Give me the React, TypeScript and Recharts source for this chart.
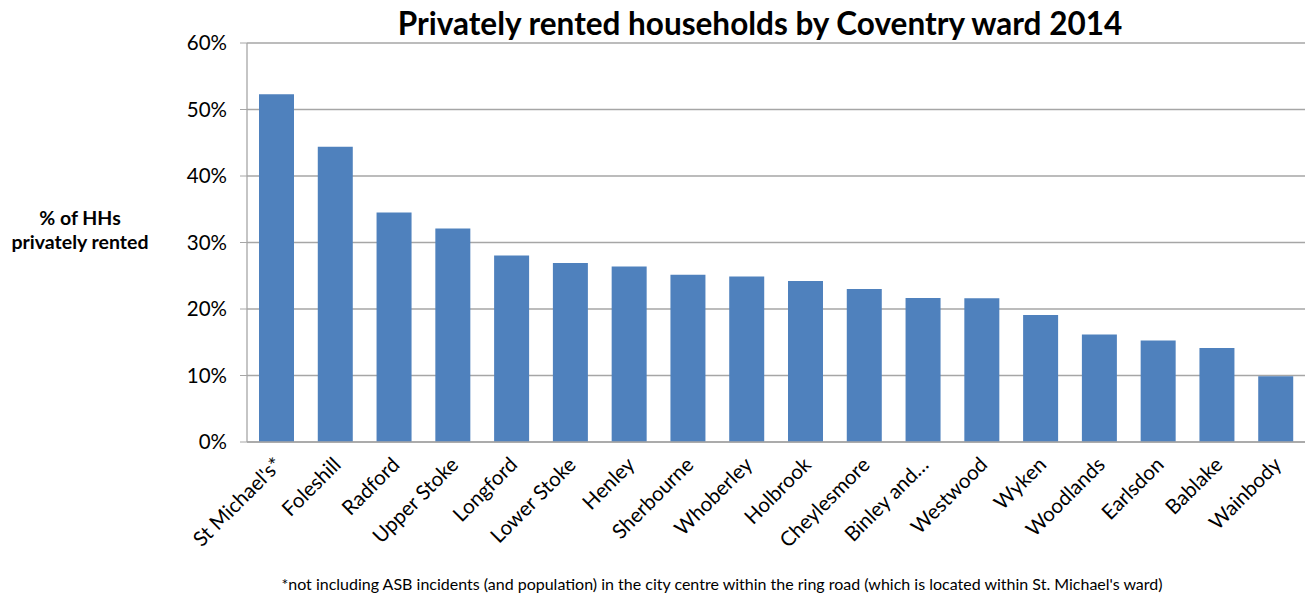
import React from 'react';
import { BarChart, Bar, XAxis, YAxis, CartesianGrid, Customized } from 'recharts';

const wards: string[] = [
  "St Michael's*", 'Foleshill', 'Radford', 'Upper Stoke', 'Longford', 'Lower Stoke', 'Henley',
  'Sherbourne', 'Whoberley', 'Holbrook', 'Cheylesmore', 'Binley and…', 'Westwood', 'Wyken',
  'Woodlands', 'Earlsdon', 'Bablake', 'Wainbody',
];
const privatelyRented: number[] = [
  0.523, 0.444, 0.345, 0.321, 0.2805, 0.269, 0.264, 0.2515, 0.249, 0.242, 0.230, 0.2165, 0.216,
  0.191, 0.1615, 0.1525, 0.1415, 0.099,
];
const yTicks: number[] = [0, 0.1, 0.2, 0.3, 0.4, 0.5, 0.6];
const boundaryTicks: number[] = [0, 1, 2, 3, 4, 5, 6, 7, 8, 9, 10, 11, 12, 13, 14, 15, 16, 17, 18];

const title = 'Privately rented households by Coventry ward 2014';
const yLabelLines = ['% of HHs', 'privately rented'];
const footnote =
  "*not including ASB incidents (and population) in the city centre within the ring road (which is located within St. Michael's ward)";

const data = wards.map((w, i) => ({ ward: w, value: privatelyRented[i] }));

const FONT = 'Lato, "Noto Sans", sans-serif';
const GRID = '#a6a6a6';

const XTick = (props: any) => {
  const { x, y, payload } = props;
  const ax = x + 7;
  const ay = y + 16;
  return (
    <text
      x={ax}
      y={ay}
      textAnchor="end"
      fontSize={20.5}
      fontFamily={FONT}
      fill="#000"
      transform={`rotate(-45, ${ax}, ${ay})`}
    >
      {payload.value}
    </text>
  );
};

const Overlay = () => (
  <g fontFamily={FONT}>
    <text x={760} y={35} textAnchor="middle" fontSize={31.5} fontWeight="bold" fill="#000">
      {title}
    </text>
    <text x={80} y={225} textAnchor="middle" fontSize={19.5} fontWeight="bold" fill="#000">
      {yLabelLines[0]}
    </text>
    <text x={80} y={249} textAnchor="middle" fontSize={19.5} fontWeight="bold" fill="#000">
      {yLabelLines[1]}
    </text>
    <text x={722} y={590} textAnchor="middle" fontSize={16} fill="#000">
      {footnote}
    </text>
  </g>
);

export default function App() {
  return (
    <div style={{ position: 'absolute', left: 0, top: 0, background: '#fff' }}>
      <BarChart
        width={1311}
        height={596}
        data={data}
        margin={{ top: 43, right: 6, left: 187, bottom: 44 }}
        barSize={35}
      >
        <CartesianGrid vertical={false} stroke={GRID} strokeWidth={1.3} />
        <XAxis
          xAxisId="b"
          type="number"
          domain={[0, 18]}
          ticks={boundaryTicks}
          height={0}
          tickSize={6}
          tickLine={{ stroke: GRID }}
          axisLine={false}
          tickFormatter={() => ''}
          allowDataOverflow
        />
        <XAxis
          xAxisId="cat"
          dataKey="ward"
          interval={0}
          height={110}
          tickLine={false}
          axisLine={{ stroke: GRID, strokeWidth: 1.3 }}
          tick={<XTick />}
        />
        <YAxis
          width={60}
          domain={[0, 0.6]}
          ticks={yTicks}
          tickFormatter={(v: number) => `${Math.round(v * 100)}%`}
          tickSize={7}
          tickLine={{ stroke: GRID }}
          axisLine={{ stroke: GRID, strokeWidth: 1.3 }}
          tick={{ fontSize: 20.5, fill: '#000', fontFamily: FONT }}
          tickMargin={13}
        />
        <Bar dataKey="value" xAxisId="cat" fill="#4F81BD" isAnimationActive={false} />
        <Customized component={Overlay} />
      </BarChart>
    </div>
  );
}
